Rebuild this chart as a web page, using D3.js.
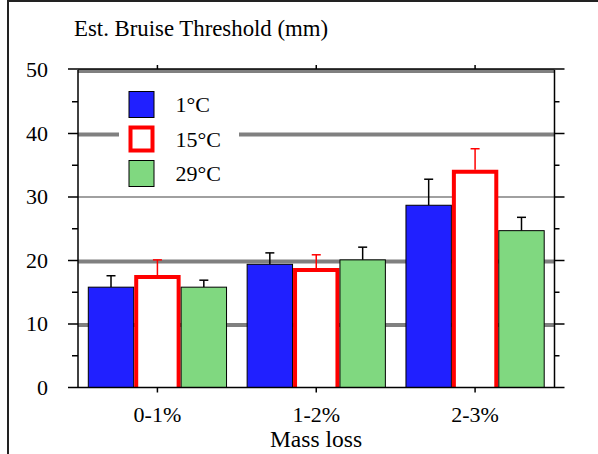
<!DOCTYPE html>
<html>
<head>
<meta charset="utf-8">
<script src="https://cdn.jsdelivr.net/npm/d3@7"></script>
<style>
  body { margin: 0; background: #fff; }
  svg { display: block; }
  text { font-family: "Liberation Serif", "Times New Roman", serif; fill: #000; }
</style>
</head>
<body>
<div class="chart"></div>
<script>
// chart values
const CATEGORIES = ["0-1%", "1-2%", "2-3%"];
const SERIES = ["1°C", "15°C", "29°C"];
const MEANS = {
  "1°C":  [15.8, 19.4, 28.7],
  "15°C": [17.7, 18.8, 34.3],
  "29°C": [15.8, 20.1, 24.7]
};
const ERRORS = {
  "1°C":  [1.8, 1.8, 4.1],
  "15°C": [2.4, 2.1, 3.3],
  "29°C": [1.1, 2.0, 2.1]
};
const Y_TICKS = [0, 10, 20, 30, 40, 50];
const THICK_GRID = [10, 20, 40, 50];
const THIN_GRID = [30];

const WIDTH = 598, HEIGHT = 454;
const plotLeft = 78, plotRight = 554.5, plotTop = 70, plotBottom = 387.5;
const FONT = 22;

const svg = d3.select(".chart").append("svg")
  .attr("width", WIDTH).attr("height", HEIGHT);

// outer frame (cut off at the right and bottom)
svg.append("rect")
  .attr("x", 8).attr("y", 1).attr("width", 700).attr("height", 700)
  .attr("fill", "none").attr("stroke", "#222").attr("stroke-width", 2);

const yScale = d3.scaleLinear().domain([0, 50]).range([plotBottom, plotTop]);
const xScale = d3.scaleBand().domain(CATEGORIES).range([plotLeft, plotRight]).padding(0);
const innerPad = 9.8;
const xSub = d3.scaleBand().domain(SERIES)
  .range([innerPad, xScale.bandwidth() - innerPad]).padding(0);

const colorScale = d3.scaleOrdinal().domain(SERIES).range(["#2020ff", "#ffffff", "#80d880"]);

// gridlines
const grid = svg.append("g");
grid.selectAll("line.thick").data(THICK_GRID).join("line")
  .attr("class", "thick")
  .attr("x1", plotLeft).attr("x2", plotRight)
  .attr("y1", d => yScale(d) + 1).attr("y2", d => yScale(d) + 1)
  .attr("stroke", "#808080").attr("stroke-width", 4);
grid.selectAll("line.thin").data(THIN_GRID).join("line")
  .attr("class", "thin")
  .attr("x1", plotLeft).attr("x2", plotRight)
  .attr("y1", d => yScale(d)).attr("y2", d => yScale(d))
  .attr("stroke", "#808080").attr("stroke-width", 1.5);

// legend background hides the 40 gridline
svg.append("rect")
  .attr("x", 119).attr("y", 82).attr("width", 120).attr("height", 110)
  .attr("fill", "#fff");

// bars
const groups = svg.append("g").selectAll("g")
  .data(CATEGORIES).join("g")
  .attr("transform", d => `translate(${xScale(d)},0)`);

const barData = ci => SERIES.map(s => ({ s, v: MEANS[s][ci], e: ERRORS[s][ci] }));

groups.each(function (c, ci) {
  const g = d3.select(this);
  const data = barData(ci);
  const w = xSub.bandwidth();

  // error bars first so bars sit over their base
  data.forEach(d => {
    const cx = xSub(d.s) + w / 2;
    const col = d.s === "15°C" ? "#ff0000" : "#000";
    g.append("line")
      .attr("x1", cx).attr("x2", cx)
      .attr("y1", yScale(d.v)).attr("y2", yScale(d.v + d.e))
      .attr("stroke", col).attr("stroke-width", 1.5);
    g.append("line")
      .attr("x1", cx - 4.5).attr("x2", cx + 4.5)
      .attr("y1", yScale(d.v + d.e)).attr("y2", yScale(d.v + d.e))
      .attr("stroke", col).attr("stroke-width", 1.5);
  });

  data.forEach(d => {
    if (d.s === "15°C") {
      const x0 = xSub(d.s) + 2, x1 = xSub(d.s) + w - 2, yt = yScale(d.v) + 2;
      g.append("rect")
        .attr("x", x0).attr("y", yt).attr("width", x1 - x0).attr("height", plotBottom - yt)
        .attr("fill", "#fff");
      g.append("path")
        .attr("d", `M${x0},${plotBottom}V${yt}H${x1}V${plotBottom}`)
        .attr("fill", "none").attr("stroke", "#ff0000").attr("stroke-width", 4)
        .attr("stroke-linejoin", "miter");
    } else {
      g.append("rect")
        .attr("x", xSub(d.s) + 0.5).attr("y", yScale(d.v))
        .attr("width", w - 1).attr("height", plotBottom - yScale(d.v))
        .attr("fill", colorScale(d.s)).attr("stroke", "#000").attr("stroke-width", 1);
    }
  });
});

// axes frame
const axisCol = "#000";
svg.append("line").attr("x1", plotLeft).attr("x2", plotLeft).attr("y1", plotTop).attr("y2", plotBottom)
  .attr("stroke", axisCol).attr("stroke-width", 1.5);
svg.append("line").attr("x1", plotRight).attr("x2", plotRight).attr("y1", plotTop).attr("y2", plotBottom)
  .attr("stroke", axisCol).attr("stroke-width", 1.5);
svg.append("line").attr("x1", plotLeft - 10).attr("x2", plotRight + 10).attr("y1", plotTop - 1).attr("y2", plotTop - 1)
  .attr("stroke", axisCol).attr("stroke-width", 1.5);
svg.append("line").attr("x1", plotLeft - 10).attr("x2", plotRight + 10).attr("y1", plotBottom).attr("y2", plotBottom)
  .attr("stroke", axisCol).attr("stroke-width", 1.5);

// major and minor ticks
const minorTicks = d3.range(5, 50, 10);
const ticks = svg.append("g").attr("stroke", axisCol).attr("stroke-width", 1.5);
ticks.selectAll("line.lmaj").data(Y_TICKS.slice(1, -1)).join("line")
  .attr("class", "lmaj")
  .attr("x1", plotLeft - 10).attr("x2", plotLeft).attr("y1", d => yScale(d)).attr("y2", d => yScale(d));
ticks.selectAll("line.rmaj").data(Y_TICKS.slice(1, -1)).join("line")
  .attr("class", "rmaj")
  .attr("x1", plotRight).attr("x2", plotRight + 10).attr("y1", d => yScale(d)).attr("y2", d => yScale(d));
ticks.selectAll("line.lmin").data(minorTicks).join("line")
  .attr("class", "lmin")
  .attr("x1", plotLeft - 6).attr("x2", plotLeft).attr("y1", d => yScale(d)).attr("y2", d => yScale(d));
ticks.selectAll("line.rmin").data(minorTicks).join("line")
  .attr("class", "rmin")
  .attr("x1", plotRight).attr("x2", plotRight + 5).attr("y1", d => yScale(d)).attr("y2", d => yScale(d));
const midX = d => xScale(d) + xScale.bandwidth() / 2;
ticks.selectAll("line.bt").data(CATEGORIES).join("line")
  .attr("class", "bt")
  .attr("x1", midX).attr("x2", midX)
  .attr("y1", plotBottom).attr("y2", plotBottom + 5);
ticks.selectAll("line.tt").data(CATEGORIES).join("line")
  .attr("class", "tt")
  .attr("x1", midX).attr("x2", midX)
  .attr("y1", plotTop - 1).attr("y2", plotTop - 5);

// tick labels
svg.append("g").selectAll("text").data(Y_TICKS).join("text")
  .attr("x", 48).attr("y", d => yScale(d) + 7)
  .attr("text-anchor", "end").attr("font-size", FONT)
  .text(d => d);

svg.append("g").selectAll("text").data(CATEGORIES).join("text")
  .attr("x", midX).attr("y", 422)
  .attr("text-anchor", "middle").attr("font-size", FONT)
  .text(d => d);

svg.append("text").attr("x", 316).attr("y", 447)
  .attr("text-anchor", "middle").attr("font-size", 23.5).text("Mass loss");

svg.append("text").attr("x", 74).attr("y", 36)
  .attr("font-size", 22.8).text("Est. Bruise Threshold (mm)");

// legend
const legend = svg.append("g").selectAll("g").data(SERIES).join("g")
  .attr("transform", (d, i) => `translate(128.5,${91 + i * 34.5})`);
legend.append("rect")
  .attr("x", d => d === "15°C" ? 2 : 0.5)
  .attr("y", d => d === "15°C" ? 2 : 0.5)
  .attr("width", d => d === "15°C" ? 22 : 25)
  .attr("height", d => d === "15°C" ? 23 : 26)
  .attr("fill", d => colorScale(d))
  .attr("stroke", d => d === "15°C" ? "#ff0000" : "#000")
  .attr("stroke-width", d => d === "15°C" ? 4 : 1);
legend.append("text")
  .attr("x", 47).attr("y", 21)
  .attr("font-size", FONT).text(d => d);
</script>
</body>
</html>
